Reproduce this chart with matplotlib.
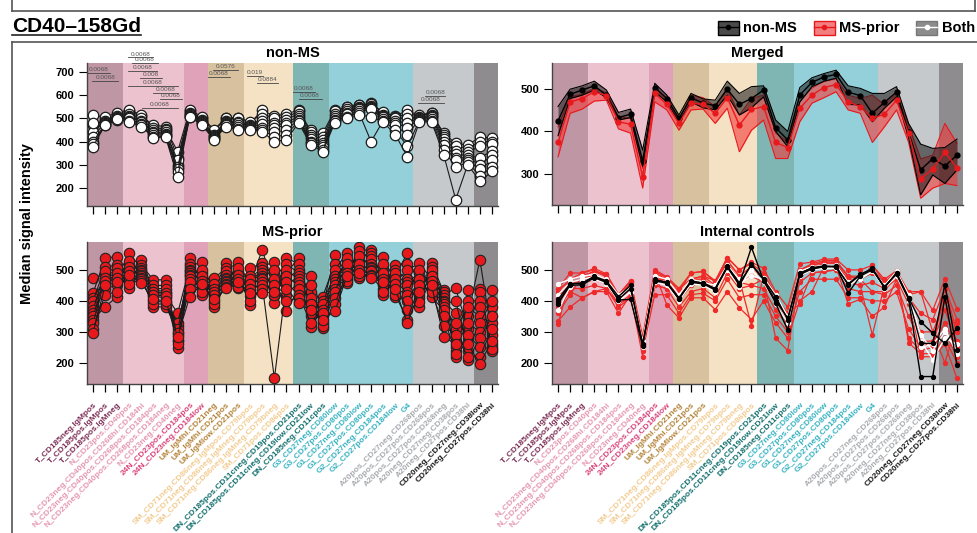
import numpy as np
import matplotlib
matplotlib.use('Agg')
import matplotlib.pyplot as plt
from matplotlib.patches import Patch
from matplotlib.lines import Line2D
from matplotlib.transforms import ScaledTranslation

plt.rcParams['font.family'] = ['Liberation Sans', 'DejaVu Sans']

categories = ['T_CD185neg.IgMpos', 'T_CD185pos.IgMpos', 'T_CD185pos.IgMneg',
              'N_CD23pos.CD40pos', 'N_CD23neg.CD40pos.CD268hi.CD184hi',
              'N_CD23neg.CD40pos.CD268pos.CD184pos', 'N_CD23neg.CD40pos.CD268pos.CD184neg',
              'N_CD23neg.CD40neg',
              '24N_CD23pos.CD184pos', '24N_CD23neg.CD184low',
              'UM_IgMhi.CD21neg', 'UM_IgMhi.CD21pos', 'UM_IgMlow.CD21pos',
              'SM_CD71neg.CD86neg.IgMpos.CD79bpos', 'SM_CD71neg.CD86neg.IgMneg.CD79bpos',
              'SM_CD71neg.CD86neg.IgMneg.CD79bneg', 'SM_CD71pos.CD86pos',
              'DN_CD185pos.CD11cneg.CD19pos.CD21pos', 'DN_CD185pos.CD11cneg.CD19low.CD21low',
              'DN_CD185neg.CD11cpos',
              'G3_CD27neg.CD80low', 'G3_CD27pos.CD80pos', 'G1_CD27neg.CD80low', 'G1_CD27pos.CD80pos',
              'G2_CD27neg.CD184pos', 'G2_CD27pos.CD184low', 'G4',
              'A20pos_CD27neg.CD268pos', 'A20pos_CD27pos.CD268pos', 'A20pos_CD27pos.CD268neg',
              'A20neg_CD27neg.CD38pos', 'A20neg_CD27pos.CD38hi',
              'CD20neg_CD27neg.CD38low', 'CD20neg_CD27pos.CD38hi']
groups = ['T'] * 3 + ['N'] * 5 + ['24N'] * 2 + ['UM'] * 3 + ['SM'] * 4 + ['DN'] * 3 + \
         ['G'] * 7 + ['A'] * 5 + ['CD20neg'] * 2

band_colors = {'T': '#bf96a4', 'N': '#ecc2cf', '24N': '#e0a2b8', 'UM': '#d8c19e',
               'SM': '#f5e2c5', 'DN': '#7fb5b3', 'G': '#94d0d9', 'A': '#c6c9cc',
               'CD20neg': '#8e8c8e'}
label_colors = {'T': '#7d2e55', 'N': '#e597b2', '24N': '#d9457a', 'UM': '#b5843a',
                'SM': '#f2cc92', 'DN': '#12706e', 'G': '#38b3c2', 'A': '#a8abaf',
                'CD20neg': '#1a1a1a'}

# non-MS samples
non_ms = [
    [470, 495, 515, 530, 510, 470, 465, 330, 530, 500, 445, 500, 500, 480, 535, 510, 520, 535, 448, 436, 535, 548, 556, 565, 525, 510, 535, 512, 522, 436, 392, 385, 420, 415],
    [515, 505, 525, 537, 515, 460, 455, 357, 537, 507, 451, 503, 503, 485, 520, 500, 505, 530, 440, 420, 530, 550, 558, 560, 528, 505, 520, 515, 524, 430, 380, 370, 400, 400],
    [440, 490, 510, 520, 500, 450, 448, 300, 525, 495, 430, 490, 485, 470, 500, 480, 495, 520, 430, 405, 520, 540, 550, 555, 515, 500, 500, 505, 515, 420, 360, 355, 380, 390],
    [420, 485, 505, 510, 490, 440, 440, 320, 520, 490, 425, 485, 480, 468, 490, 470, 480, 510, 420, 395, 510, 530, 545, 550, 510, 490, 480, 500, 510, 410, 345, 340, 330, 360],
    [480, 480, 500, 505, 485, 435, 432, 290, 515, 485, 420, 480, 470, 465, 475, 460, 470, 500, 410, 385, 500, 525, 540, 545, 505, 480, 460, 498, 505, 400, 330, 330, 300, 340],
    [400, 475, 498, 500, 475, 428, 428, 280, 510, 480, 415, 475, 465, 460, 460, 440, 450, 495, 400, 375, 495, 518, 530, 540, 498, 470, 430, 495, 498, 385, 320, 320, 280, 320],
    [390, 470, 495, 490, 470, 420, 422, 270, 508, 475, 410, 470, 455, 455, 450, 420, 430, 488, 395, 365, 490, 508, 525, 400, 490, 450, 380, 490, 490, 365, 290, 310, 250, 290],
    [378, 472, 497, 485, 465, 417, 420, 245, 507, 472, 408, 464, 451, 451, 443, 400, 408, 481, 387, 357, 481, 503, 515, 507, 485, 430, 335, 485, 485, 344, 150, 301, 228, 271],
]

# MS-prior samples
ms_prior = [
    [474, 485, 495, 490, 532, 435, 430, 290, 538, 460, 435, 521, 465, 460, 564, 440, 490, 538, 380, 380, 549, 485, 530, 564, 465, 480, 555, 440, 490, 435, 270, 350, 532, 290],
    [425, 538, 543, 465, 515, 468, 468, 270, 520, 445, 473, 505, 450, 505, 521, 415, 538, 520, 350, 414, 520, 470, 575, 555, 440, 516, 520, 410, 521, 430, 240, 435, 440, 250],
    [410, 470, 480, 553, 505, 425, 420, 360, 510, 527, 425, 495, 527, 450, 510, 527, 470, 500, 479, 365, 500, 555, 510, 545, 543, 460, 500, 521, 470, 420, 441, 310, 430, 435],
    [400, 510, 515, 441, 500, 450, 450, 248, 500, 420, 455, 485, 441, 480, 500, 392, 520, 490, 317, 400, 480, 457, 560, 535, 420, 500, 470, 381, 510, 410, 219, 400, 400, 240],
    [385, 460, 470, 520, 495, 415, 410, 320, 495, 490, 415, 475, 495, 435, 490, 490, 450, 480, 430, 350, 470, 530, 495, 520, 500, 450, 460, 490, 460, 400, 360, 280, 380, 380],
    [370, 495, 505, 500, 490, 440, 440, 300, 490, 470, 440, 470, 470, 470, 480, 460, 500, 470, 400, 390, 460, 500, 545, 510, 480, 490, 450, 460, 500, 395, 310, 380, 350, 330],
    [360, 440, 450, 530, 485, 400, 395, 330, 485, 500, 400, 465, 505, 415, 475, 500, 420, 460, 450, 330, 450, 540, 485, 505, 520, 430, 430, 500, 440, 390, 400, 240, 330, 400],
    [350, 475, 490, 475, 480, 430, 425, 275, 480, 450, 430, 460, 455, 455, 470, 420, 480, 450, 360, 370, 440, 475, 520, 500, 450, 470, 420, 420, 480, 380, 250, 330, 300, 260],
    [340, 381, 414, 510, 475, 381, 381, 310, 470, 480, 381, 455, 485, 387, 460, 470, 366, 440, 410, 312, 430, 520, 474, 495, 490, 414, 400, 470, 414, 370, 330, 208, 280, 350],
    [330, 465, 475, 455, 470, 420, 415, 260, 460, 430, 420, 450, 445, 440, 450, 150, 460, 420, 330, 360, 410, 465, 500, 485, 430, 455, 370, 395, 465, 350, 230, 290, 250, 245],
    [310, 420, 430, 495, 465, 390, 390, 295, 440, 465, 390, 445, 470, 400, 440, 450, 400, 410, 390, 320, 390, 490, 480, 480, 470, 420, 340, 450, 430, 320, 290, 220, 220, 310],
    [297, 450, 460, 485, 457, 405, 400, 285, 414, 455, 405, 441, 460, 425, 425, 430, 440, 392, 370, 340, 366, 480, 490, 474, 460, 440, 328, 430, 450, 285, 260, 260, 198, 270],
]

# merged summaries (mean, lower, upper)
nonms_mean = [425, 488, 498, 508, 486, 433, 441, 330, 504, 478, 431, 480, 467, 461, 500, 464, 478, 498, 409, 380, 486, 516, 529, 535, 493, 485, 443, 469, 493, 398, 309, 336, 318, 344]
nonms_lo = [390, 478, 486, 498, 480, 427, 433, 317, 494, 470, 423, 470, 456, 451, 486, 439, 456, 482, 400, 364, 470, 506, 519, 526, 464, 463, 423, 455, 482, 385, 250, 297, 277, 309]
nonms_hi = [459, 500, 508, 519, 498, 445, 453, 356, 514, 486, 439, 490, 477, 474, 519, 490, 506, 508, 427, 400, 504, 527, 537, 545, 508, 502, 490, 490, 506, 419, 370, 360, 362, 382]
ms_mean = [374, 470, 478, 494, 485, 423, 417, 293, 490, 464, 419, 467, 464, 443, 480, 415, 452, 459, 374, 362, 455, 486, 504, 511, 470, 459, 431, 441, 474, 396, 288, 311, 351, 314]
ms_lo = [340, 443, 453, 472, 474, 406, 396, 266, 470, 451, 403, 451, 453, 419, 455, 352, 403, 427, 336, 336, 423, 467, 480, 494, 451, 443, 374, 411, 451, 374, 242, 266, 277, 272]
ms_hi = [411, 482, 488, 502, 492, 435, 431, 313, 502, 478, 427, 486, 480, 459, 502, 439, 478, 486, 396, 376, 470, 502, 518, 524, 486, 478, 486, 463, 488, 415, 335, 344, 419, 372]

# internal controls
ic_black = [
    [405, 455, 458, 478, 465, 414, 450, 258, 468, 460, 409, 462, 458, 440, 512, 458, 516, 470, 414, 339, 490, 505, 511, 511, 452, 484, 505, 444, 490, 409, 263, 263, 452, 242],
    [395, 450, 452, 475, 460, 405, 440, 262, 465, 457, 410, 460, 455, 436, 508, 455, 573, 465, 393, 306, 485, 503, 510, 512, 425, 480, 500, 446, 486, 405, 156, 156, 414, 194],
    [390, 455, 456, 480, 462, 403, 405, 253, 470, 458, 405, 465, 457, 438, 510, 450, 520, 468, 400, 345, 488, 507, 513, 509, 455, 486, 503, 442, 490, 410, 333, 296, 263, 312],
]
ic_white = [
    [455, 470, 480, 485, 470, 420, 445, 270, 480, 470, 420, 470, 460, 450, 515, 470, 510, 475, 420, 350, 495, 510, 515, 515, 460, 480, 500, 450, 495, 420, 290, 240, 300, 240],
    [370, 445, 460, 470, 455, 400, 430, 250, 460, 450, 400, 455, 450, 430, 505, 445, 500, 460, 390, 330, 480, 500, 505, 505, 450, 470, 495, 440, 480, 400, 270, 210, 280, 260],
    [420, 460, 470, 478, 465, 410, 440, 260, 470, 455, 410, 460, 455, 440, 500, 455, 480, 470, 400, 340, 485, 505, 510, 508, 455, 475, 500, 445, 485, 410, 250, 260, 310, 230],
]
ic_red = [
    [440, 490, 490, 505, 487, 420, 465, 285, 500, 478, 440, 490, 495, 465, 540, 500, 525, 505, 430, 380, 520, 525, 535, 535, 500, 500, 515, 470, 497, 430, 430, 370, 470, 375],
    [430, 470, 480, 495, 478, 410, 460, 270, 490, 470, 420, 470, 480, 450, 530, 480, 510, 480, 410, 360, 500, 515, 525, 525, 480, 470, 490, 450, 490, 410, 360, 340, 440, 340],
    [420, 460, 470, 485, 470, 400, 440, 260, 470, 460, 400, 450, 460, 430, 510, 460, 480, 460, 390, 340, 480, 500, 510, 510, 460, 450, 460, 440, 470, 390, 300, 300, 400, 300],
    [410, 450, 455, 470, 455, 390, 420, 250, 450, 440, 380, 430, 440, 410, 490, 440, 450, 440, 370, 320, 460, 490, 495, 500, 440, 430, 430, 420, 450, 350, 270, 270, 370, 270],
    [400, 440, 440, 450, 440, 380, 410, 240, 420, 420, 360, 420, 425, 400, 470, 410, 420, 420, 350, 300, 430, 470, 470, 470, 410, 410, 400, 400, 430, 310, 250, 260, 330, 250],
    [380, 430, 410, 430, 430, 360, 420, 220, 490, 387, 345, 410, 410, 372, 430, 378, 340, 400, 330, 280, 400, 430, 510, 510, 390, 405, 350, 380, 470, 280, 240, 250, 300, 220],
    [360, 420, 480, 495, 487, 420, 465, 265, 470, 470, 440, 470, 480, 465, 520, 470, 320, 480, 410, 360, 390, 490, 495, 500, 460, 450, 290, 450, 490, 265, 230, 230, 280, 200],
    [335, 380, 410, 430, 440, 390, 410, 255, 450, 440, 420, 450, 460, 450, 530, 480, 510, 470, 280, 240, 470, 515, 525, 525, 480, 470, 515, 460, 480, 410, 220, 220, 260, 150],
    [325, 470, 490, 500, 480, 410, 440, 275, 495, 475, 430, 490, 495, 460, 540, 500, 520, 490, 420, 320, 500, 520, 530, 530, 480, 480, 500, 460, 495, 420, 430, 300, 200, 330],
    [440, 460, 455, 475, 460, 405, 460, 265, 480, 465, 415, 470, 470, 445, 510, 460, 450, 470, 390, 350, 490, 510, 520, 520, 470, 470, 430, 430, 485, 390, 270, 250, 440, 300],
]

# p-value annotations on the non-MS panel: (text, from category, to category, y)
pvals = [('0.0068', 0.5, 2.4, 696), ('0.0068', 0.9, 3.1, 661),
         ('0.0068', 3.9, 6.0, 764), ('0.0068', 4.2, 6.4, 739), ('0.0068', 3.9, 6.3, 704),
         ('0.008', 4.9, 6.7, 674), ('0.0068', 3.9, 8.0, 640), ('0.0068', 6.0, 8.0, 610),
         ('0.0068', 6.5, 8.4, 584), ('0.0068', 5.05, 8.0, 546),
         ('0.0576', 10.9, 13.0, 709), ('0.0068', 10.5, 12.3, 679),
         ('0.019', 13.7, 15.1, 683), ('0.0884', 14.6, 16.3, 653),
         ('0.0068', 17.5, 19.4, 614), ('0.0068', 18.0, 19.9, 584),
         ('0.0068', 28.5, 30.1, 597), ('0.0068', 27.9, 30.0, 567)]

W, H = 978, 533
fig = plt.figure(figsize=(W / 100, H / 100), dpi=100)
x = np.arange(1, len(categories) + 1)


def add_ax(x0, ytop, w, h):
    return fig.add_axes([x0 / W, 1 - (ytop + h) / H, w / W, h / H])


def setup(ax, ylim, yticks, title, colored_ticks=True):
    ax.set_xlim(0.5, len(categories) + 0.5)
    ax.set_ylim(*ylim)
    start = 0
    for i in range(1, len(groups) + 1):
        if i == len(groups) or groups[i] != groups[start]:
            ax.axvspan(start + 0.5, i + 0.5, color=band_colors[groups[start]], lw=0, zorder=0)
            start = i
    for s in ['top', 'right']:
        ax.spines[s].set_visible(False)
    for s in ['left', 'bottom']:
        ax.spines[s].set_color('#444444')
        ax.spines[s].set_linewidth(1.0)
    ax.set_xticks(x)
    ax.set_xticklabels([])
    ax.tick_params(axis='x', length=6, width=0.9)
    if colored_ticks:
        for t, g in zip(ax.xaxis.get_major_ticks(), groups):
            t.tick1line.set_color(label_colors[g])
    ax.set_yticks(yticks)
    ax.tick_params(axis='y', length=6, width=0.8, labelsize=8, pad=3)
    for lab in ax.get_yticklabels():
        lab.set_fontweight('bold')
    ax.set_title(title, fontsize=10.5, fontweight='bold', pad=4)


def add_xlabels(ax):
    off = ScaledTranslation(3 / 100, -20 / 100, fig.dpi_scale_trans)
    for xi, lab, g in zip(x, categories, groups):
        ax.text(xi, 0, lab, transform=ax.get_xaxis_transform() + off, rotation=45,
                rotation_mode='anchor', ha='right', va='center', fontsize=6,
                fontweight='bold', color=label_colors[g], clip_on=False)


ax1 = add_ax(87, 63, 411, 143)
ax2 = add_ax(552, 63, 411, 142)
ax3 = add_ax(87, 242, 411, 142)
ax4 = add_ax(552, 242, 411, 142)

setup(ax1, (122, 739), [200, 300, 400, 500, 600, 700], 'non-MS', colored_ticks=False)
setup(ax2, (226, 562), [300, 400, 500], 'Merged')
setup(ax3, (132, 590), [200, 300, 400, 500], 'MS-prior')
setup(ax4, (132, 590), [200, 300, 400, 500], 'Internal controls')

# non-MS
for s in non_ms:
    ax1.plot(x, s, color='#1a1a1a', lw=0.8, marker='o', ms=7.5, mfc='white',
             mec='#1a1a1a', mew=0.9, zorder=3)
for txt, a, b, yv in pvals:
    ax1.plot([a, b], [yv, yv], color='#444444', lw=0.6, clip_on=False, zorder=4)
    ax1.text((a + b) / 2, yv + 3, txt, ha='center', va='bottom', fontsize=4.6,
             color='#555555', clip_on=False, zorder=4)

# merged
ax2.fill_between(x, ms_lo, ms_hi, color='#f23a3a', alpha=0.6, lw=0, zorder=2)
ax2.plot(x, ms_lo, color='#e8191c', lw=0.8, zorder=2)
ax2.plot(x, ms_hi, color='#e8191c', lw=0.8, zorder=2)
ax2.fill_between(x, nonms_lo, nonms_hi, color='#1e1e1e', alpha=0.58, lw=0, zorder=3)
ax2.plot(x, nonms_lo, color='black', lw=0.8, zorder=3)
ax2.plot(x, nonms_hi, color='black', lw=0.8, zorder=3)
ax2.plot(x, nonms_mean, color='black', lw=1.0, marker='o', ms=3.5, zorder=4)
ax2.plot(x, ms_mean, color='#e8191c', lw=1.0, marker='o', ms=3.5, zorder=5)

# MS-prior
for s in ms_prior:
    ax3.plot(x, s, color='#1a1a1a', lw=0.8, marker='o', ms=7.5, mfc='#e8191c',
             mec='#222222', mew=0.8, zorder=3)

# internal controls
for s in ic_red:
    ax4.plot(x, s, color='#f02a2a', lw=0.9, marker='o', ms=2.8, zorder=3)
for s in ic_white:
    ax4.plot(x, s, color='white', lw=1.0, marker='o', ms=2.8, zorder=3)
for s in ic_black:
    ax4.plot(x, s, color='black', lw=1.0, marker='o', ms=2.8, zorder=4)

add_xlabels(ax3)
add_xlabels(ax4)

fig.text(27 / W, 1 - 224 / H, 'Median signal intensity', rotation=90, ha='center',
         va='center', fontsize=10.5, fontweight='bold')

# legend
handles = [(Patch(fc='#4a4a4a', ec='black', lw=1), Line2D([], [], color='black', marker='o', ms=3, lw=1)),
           (Patch(fc='#f28080', ec='#e8191c', lw=1), Line2D([], [], color='#e8191c', marker='o', ms=3, lw=1)),
           (Patch(fc='#8c8c8c', ec='#777777', lw=1), Line2D([], [], color='white', marker='o', ms=3, lw=1))]
fig.legend(handles, ['non-MS', 'MS-prior', 'Both'], loc='center right',
           bbox_to_anchor=(975 / W, 1 - 28 / H), ncol=3, frameon=False,
           prop={'size': 10.5, 'weight': 'bold'}, handlelength=1.45, handleheight=1.1,
           handletextpad=0.3, columnspacing=1.15, borderaxespad=0, borderpad=0)

# title with underline
title = fig.text(12 / W, 1 - 32 / H, 'CD40\u2013158Gd', fontsize=15, fontweight='bold',
                 va='baseline', ha='left')
fig.canvas.draw()
bb = title.get_window_extent()
fig.add_artist(Line2D([bb.x0 / W, bb.x1 / W], [1 - 35 / H] * 2, color='#222222', lw=1.2))

# frames
fc = '#555555'
fig.add_artist(Line2D([12 / W, 1.0], [1 - 42 / H] * 2, color=fc, lw=1.2))
fig.add_artist(Line2D([12 / W, 12 / W], [0, 1 - 42 / H], color=fc, lw=1.2))
fig.add_artist(Line2D([12 / W, 975 / W], [1 - 11 / H] * 2, color=fc, lw=1.2))
fig.add_artist(Line2D([12 / W, 12 / W], [1 - 11 / H, 1], color=fc, lw=1.2))
fig.add_artist(Line2D([975 / W, 975 / W], [1 - 11 / H, 1], color=fc, lw=1.2))

fig.savefig('out.png', dpi=100)
